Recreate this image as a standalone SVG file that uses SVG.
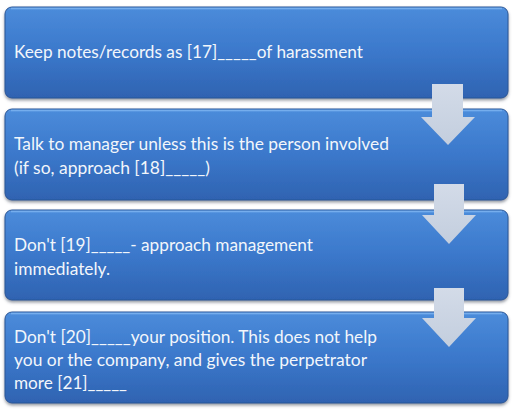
<svg xmlns="http://www.w3.org/2000/svg" width="514" height="419" viewBox="0 0 514 419">
<defs>
<linearGradient id="boxg" x1="0" y1="0" x2="0" y2="1">
<stop offset="0" stop-color="#5c9ae6"/>
<stop offset="0.04" stop-color="#4a8ad9"/>
<stop offset="0.5" stop-color="#3b78cb"/>
<stop offset="1" stop-color="#2f63b1"/>
</linearGradient>
<linearGradient id="arrg" x1="0" y1="0" x2="0" y2="1">
<stop offset="0" stop-color="#d3dbe8"/>
<stop offset="1" stop-color="#c3cede"/>
</linearGradient>
<filter id="sh" x="-5%" y="-10%" width="110%" height="130%">
<feDropShadow dx="0" dy="2" stdDeviation="1.6" flood-color="#404a58" flood-opacity="0.55"/>
</filter>
<style>
.box{fill:url(#boxg);stroke:#2b5696;stroke-width:1;filter:url(#sh)}
.hl{fill:none;stroke:#7db4f0;stroke-width:1.5;opacity:0.8}
.t{font-family:Lato,"Liberation Sans",sans-serif;font-size:17px;fill:#f2f6fb}
.arr{fill:url(#arrg);stroke:none}
</style>
</defs>
<rect width="514" height="419" fill="#ffffff"/>
<g id="node1">
<rect class="box" x="5" y="7" width="503" height="91" rx="7"/>
<path class="hl" d="M11,8.5 H502"/>
<text class="t" x="14" y="58" textLength="349" lengthAdjust="spacingAndGlyphs">Keep notes/records as [17]_____of harassment</text>
</g>
<g id="node2">
<rect class="box" x="5" y="109" width="503" height="91" rx="7"/>
<path class="hl" d="M11,110.5 H502"/>
<text class="t" x="14" y="150" textLength="375" lengthAdjust="spacingAndGlyphs">Talk to manager unless this is the person involved</text>
<text class="t" x="14" y="174" textLength="196" lengthAdjust="spacingAndGlyphs">(if so, approach [18]_____)</text>
</g>
<g id="node3">
<rect class="box" x="5" y="210" width="503" height="90" rx="7"/>
<path class="hl" d="M11,211.5 H502"/>
<text class="t" x="14" y="251" textLength="299" lengthAdjust="spacingAndGlyphs">Don't [19]_____- approach management</text>
<text class="t" x="14" y="275" textLength="96" lengthAdjust="spacingAndGlyphs">immediately.</text>
</g>
<g id="node4">
<rect class="box" x="5" y="312" width="503" height="91" rx="7"/>
<path class="hl" d="M11,313.5 H502"/>
<text class="t" x="14" y="343" textLength="363" lengthAdjust="spacingAndGlyphs">Don't [20]_____your position. This does not help</text>
<text class="t" x="14" y="366" textLength="353" lengthAdjust="spacingAndGlyphs">you or the company, and gives the perpetrator</text>
<text class="t" x="14" y="389" textLength="113" lengthAdjust="spacingAndGlyphs">more [21]_____</text>
</g>
<g id="connectors">
<path class="arr" d="M432,84 H463 V117 H475 L448,145 L421,117 H432 Z"/>
<path class="arr" d="M434,184 H464 V215 H476 L449,244 L422,215 H434 Z"/>
<path class="arr" d="M434,288 H464 V318 H476 L449,347 L422,318 H434 Z"/>
</g>
</svg>
